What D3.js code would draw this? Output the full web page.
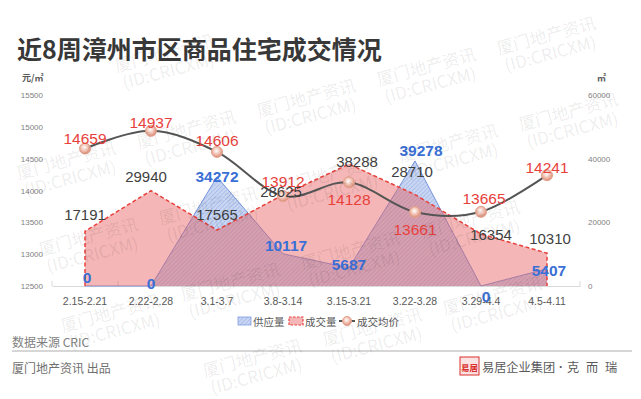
<!DOCTYPE html>
<html><head><meta charset="utf-8">
<script src="https://cdn.jsdelivr.net/npm/d3@7"></script>
<style>body{margin:0;background:#fff}svg{display:block}</style>
</head><body><svg id="c" width="641" height="399"></svg>
<script>
// ---- data ----
const categories = ["2.15-2.21","2.22-2.28","3.1-3.7","3.8-3.14","3.15-3.21","3.22-3.28","3.29-4.4","4.5-4.11"];
const supply = [0,0,34272,10117,5687,39278,0,5407];
const volume = [17191,29940,17565,28625,38288,28710,16354,10310];
const price  = [14659,14937,14606,13912,14128,13661,13665,14241];
const priceTicks = [12500,13000,13500,14000,14500,15000,15500];
const areaTicks = [0,20000,40000,60000];
const seriesNames = ["供应量","成交量","成交均价"];
const titleText = "近8周漳州市区商品住宅成交情况";
const leftUnit = "元/㎡", rightUnit = "㎡";
const sourceText = "数据来源  CRIC", producerText = "厦门地产资讯  出品";

// ---- label nudges (style) ----
const priceOff  = [[0,-10],[0,-8],[0,-11],[0,-15],[0,17],[0,17],[3,-13],[0,-8]];
const volumeOff = [[0,-17],[-5,-14],[0,-16],[-2,-3],[8,-3],[-3,-23],[10,1],[3,-15]];
const supplyOff = [[2,-9],[0,-3],[0,0],[3,-8],[0,-3],[6,-10],[5,10],[2,2]];

const svg = d3.select("#c");
const CJK = "'Noto Sans CJK SC','Noto Sans',sans-serif";
const LAT = "'Liberation Sans',Arial,sans-serif";

const defs = svg.append("defs");
const hatch = defs.append("pattern").attr("id","hatch").attr("patternUnits","userSpaceOnUse")
  .attr("width",3).attr("height",3).attr("patternTransform","rotate(45)");
hatch.append("rect").attr("width",3).attr("height",3).attr("fill","#cad7f3");
hatch.append("line").attr("x1",0).attr("y1",0).attr("x2",0).attr("y2",3).attr("stroke","#8ea8e2").attr("stroke-width",1);
const rg = defs.append("radialGradient").attr("id","mk").attr("cx","45%").attr("cy","40%").attr("r","60%");
rg.append("stop").attr("offset","0%").attr("stop-color","#ffffff");
rg.append("stop").attr("offset","35%").attr("stop-color","#f7d6cb");
rg.append("stop").attr("offset","100%").attr("stop-color","#de8a74");

const x = d3.scaleBand().domain(categories).range([52,580]);
const cx = c => x(c) + x.bandwidth()/2;
const yL = d3.scaleLinear().domain([12500,15500]).range([286,95]);
const yR = d3.scaleLinear().domain([0,60000]).range([286,95]);

// title
svg.append("text").attr("x",17).attr("y",48).attr("dominant-baseline","central")
  .attr("font-family",CJK).attr("font-weight","bold").attr("font-size",25).attr("fill","#383838").text(titleText);

// units
svg.append("text").attr("x",22).attr("y",77).attr("dominant-baseline","central")
  .attr("font-family",CJK).attr("font-size",9).attr("font-weight","bold").attr("fill","#595959").text(leftUnit);
svg.append("text").attr("x",597).attr("y",77).attr("dominant-baseline","central")
  .attr("font-family",CJK).attr("font-size",9).attr("font-weight","bold").attr("fill","#595959").text(rightUnit);

// left axis
const gl = svg.append("g").attr("transform","translate(43,0)")
  .call(d3.axisLeft(yL).tickValues(priceTicks).tickSize(0).tickPadding(0).tickFormat(d3.format("d")));
gl.select(".domain").remove();
gl.selectAll("text").attr("font-family",LAT).attr("font-size",8).attr("fill","#7f7f7f");
// right axis
const gr = svg.append("g").attr("transform","translate(588,0)")
  .call(d3.axisRight(yR).tickValues(areaTicks).tickSize(0).tickPadding(0).tickFormat(d3.format("d")));
gr.select(".domain").remove();
gr.selectAll("text").attr("font-family",LAT).attr("font-size",8).attr("fill","#7f7f7f");

// bottom axis
const gb = svg.append("g").attr("transform","translate(0,286)")
  .call(d3.axisBottom(x).tickSize(0).tickSizeOuter(0).tickPadding(12));
gb.select(".domain").attr("stroke","#d9d9d9");
gb.selectAll("text").attr("font-family",LAT).attr("font-size",10.5).attr("fill","#595959");
const bounds = categories.map(c => x(c)).concat([x.range()[1]]);
svg.append("g").selectAll("line").data(bounds).join("line")
  .attr("x1",d=>d).attr("x2",d=>d).attr("y1",281).attr("y2",286).attr("stroke","#d9d9d9");

// supply area
const sArea = d3.area().x((d,i)=>cx(categories[i])).y0(yR(0)).y1(d=>yR(d));
const sLine = d3.line().x((d,i)=>cx(categories[i])).y(d=>yR(d));
svg.append("path").datum(supply).attr("d",sArea).attr("fill","url(#hatch)");
svg.append("path").datum(supply).attr("d",sLine).attr("fill","none").attr("stroke","#6a8bd8").attr("stroke-width",0.9);

// volume area
const vArea = d3.area().x((d,i)=>cx(categories[i])).y0(yR(0)).y1(d=>yR(d));
svg.append("path").datum(volume).attr("d",vArea).attr("fill","#e65e5e").attr("fill-opacity",0.45);
const outline = [[cx(categories[0]),yR(0)]].concat(volume.map((d,i)=>[cx(categories[i]),yR(d)]))
  .concat([[cx(categories[categories.length-1]),yR(0)]]);
svg.append("path").attr("d",d3.line()(outline)).attr("fill","none")
  .attr("stroke","#e8413c").attr("stroke-width",1.5).attr("stroke-dasharray","4,2.5");

// price line
const pLine = d3.line().x((d,i)=>cx(categories[i])).y(d=>yL(d)).curve(d3.curveCatmullRom.alpha(0));
svg.append("path").datum(price).attr("d",pLine).attr("fill","none").attr("stroke","#555").attr("stroke-width",2);
svg.append("g").selectAll("circle").data(price).join("circle")
  .attr("cx",(d,i)=>cx(categories[i])).attr("cy",d=>yL(d)).attr("r",5.5)
  .attr("fill","url(#mk)").attr("stroke","#e2a08c").attr("stroke-width",1);

// labels
function labels(data, yS, off, color, weight, size){
  svg.append("g").selectAll("text").data(data).join("text")
    .attr("x",(d,i)=>cx(categories[i])+off[i][0]).attr("y",(d,i)=>yS(d)+off[i][1])
    .attr("text-anchor","middle").attr("dominant-baseline","central")
    .attr("font-family",LAT).attr("font-size",size).attr("font-weight",weight).attr("fill",color)
    .text(d=>d);
}
labels(volume, yR, volumeOff, "#3f3f3f", "normal", 15);
labels(supply, yR, supplyOff, "#3a6fd6", "bold", 15.5);
labels(price, yL, priceOff, "#e8413c", "normal", 15.5);

// legend
const lg = svg.append("g").attr("font-family",CJK).attr("font-size",10.5).attr("fill","#595959");
lg.append("rect").attr("x",238).attr("y",317).attr("width",13).attr("height",8).attr("fill","url(#hatch)").attr("stroke","#7f9be0").attr("stroke-width",0.8);
lg.append("text").attr("x",253).attr("y",321).attr("dominant-baseline","central").text(seriesNames[0]);
lg.append("rect").attr("x",289).attr("y",317).attr("width",14).attr("height",8).attr("fill","#e65e5e").attr("fill-opacity",0.45)
  .attr("stroke","#e8413c").attr("stroke-width",1.2).attr("stroke-dasharray","2.5,1.5");
lg.append("text").attr("x",305).attr("y",321).attr("dominant-baseline","central").text(seriesNames[1]);
lg.append("line").attr("x1",339).attr("x2",355).attr("y1",321).attr("y2",321).attr("stroke","#555").attr("stroke-width",2);
lg.append("circle").attr("cx",347).attr("cy",321).attr("r",4.5).attr("fill","url(#mk)").attr("stroke","#e2a08c");
lg.append("text").attr("x",357).attr("y",321).attr("dominant-baseline","central").text(seriesNames[2]);

// footer
svg.append("text").attr("x",12).attr("y",341).attr("dominant-baseline","central")
  .attr("font-family",CJK).attr("font-size",12).attr("fill","#7f7f7f").text(sourceText);
svg.append("line").attr("x1",12).attr("x2",632).attr("y1",351).attr("y2",351).attr("stroke","#d6d6d6").attr("stroke-width",2);
svg.append("text").attr("x",12).attr("y",367).attr("dominant-baseline","central")
  .attr("font-family",CJK).attr("font-size",12).attr("fill","#6f6f6f").text(producerText);
svg.append("rect").attr("x",460).attr("y",357).attr("width",19).attr("height",18).attr("fill","#fbe3e3").attr("stroke","#d9302c").attr("stroke-width",1);
svg.append("text").attr("x",469.5).attr("y",366.5).attr("text-anchor","middle").attr("dominant-baseline","central")
  .attr("font-family",CJK).attr("font-size",8.5).attr("font-weight","bold").attr("fill","#d9302c").text("易居");
const logo = svg.append("g").attr("font-family",CJK).attr("font-size",12.2).attr("fill","#5a5a5a");
logo.append("text").attr("x",482).attr("y",367).attr("dominant-baseline","central").text("易居企业集团");
logo.append("text").attr("x",561).attr("y",367).attr("text-anchor","middle").attr("dominant-baseline","central")
  .attr("font-family",LAT).attr("font-weight","bold").text("·");
[["克",567],["而",586],["瑞",605]].forEach(([t,xx])=>logo.append("text").attr("x",xx).attr("y",367).attr("dominant-baseline","central").text(t));

// watermark (only whole copies inside the frame)
const wm = svg.append("g").attr("font-family",CJK).attr("font-size",17).attr("fill","#000").attr("fill-opacity",0.085).attr("text-anchor","middle");
for(let r=-3;r<7;r++){
  for(let k=-3;k<8;k++){
    const wx = 48 + 22*r + 120*k;
    const wy = 32 + 82*r - 0.26*(wx-313);
    if (wx-56<0||wx+56>641||wy-44<0||wy+24>399) continue;
    wm.append("text").attr("transform",`translate(${wx-4},${wy-18}) rotate(-15)`).attr("dominant-baseline","central").text("厦门地产资讯");
    wm.append("text").attr("transform",`translate(${wx},${wy}) rotate(-15)`).attr("dominant-baseline","central").text("(ID:CRICXM)");
  }
}
</script></body></html>
